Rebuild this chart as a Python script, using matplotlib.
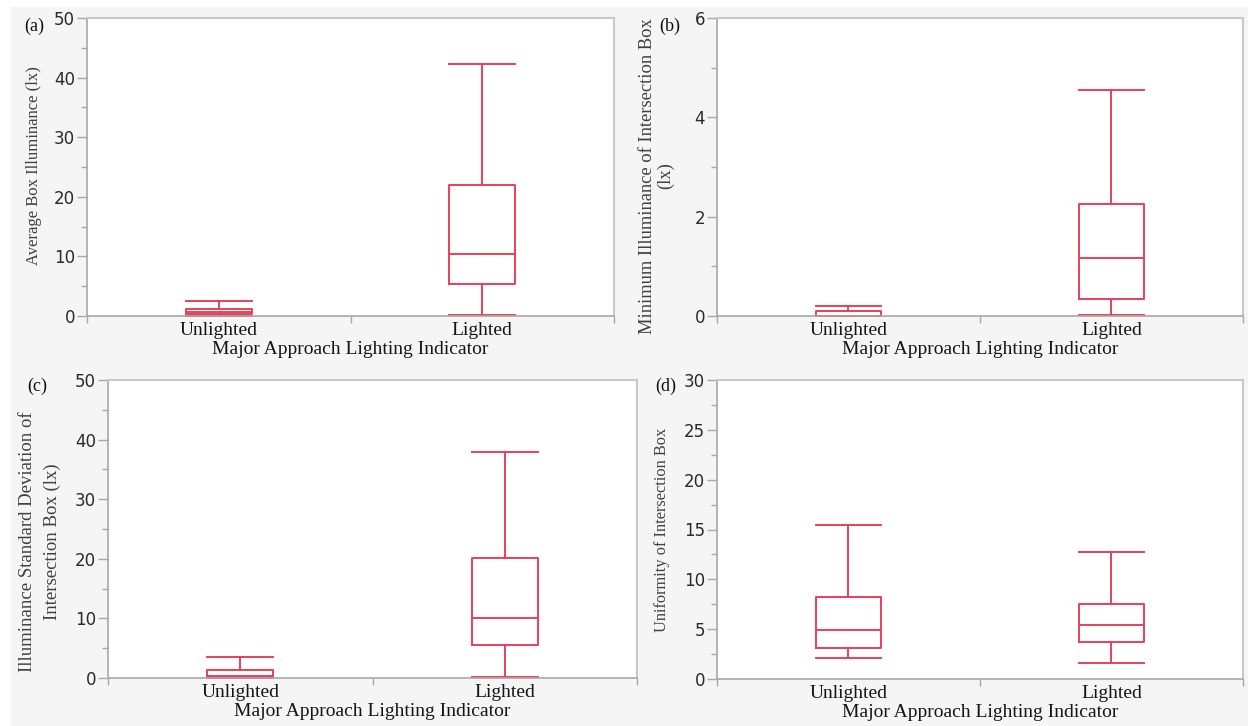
import matplotlib
matplotlib.use("Agg")
import matplotlib.pyplot as plt
from matplotlib.patches import Rectangle
from matplotlib.ticker import MultipleLocator, FixedLocator

categories = ["Unlighted", "Lighted"]

# five-number summaries per panel: [whislo, q1, med, q3, whishi]
avg_box_unlit = [0.0, 0.3, 0.7, 1.2, 2.5]
avg_box_lit = [0.2, 5.4, 10.4, 22.0, 42.2]

min_box_unlit = [0.0, 0.0, 0.0, 0.1, 0.2]
min_box_lit = [0.02, 0.34, 1.17, 2.25, 4.55]

sd_box_unlit = [0.0, 0.1, 0.4, 1.4, 3.5]
sd_box_lit = [0.2, 5.5, 10.0, 20.1, 38.0]

unif_box_unlit = [2.15, 3.15, 4.9, 8.2, 15.45]
unif_box_lit = [1.65, 3.75, 5.4, 7.5, 12.7]

panel_letters = ["(a)", "(b)", "(c)", "(d)"]
y_label_lines = [["Average Box Illuminance (lx)"],
                 ["Minimum Illuminance of Intersection Box", "(lx)"],
                 ["Illuminance Standard Deviation of", "Intersection Box (lx)"],
                 ["Uniformity of Intersection Box"]]
x_label = "Major Approach Lighting Indicator"
y_limits = [(0, 50), (0, 6), (0, 50), (0, 30)]
y_major = [10, 2, 10, 5]
y_minor = [5, 1, 5, 2.5]

data = [(avg_box_unlit, avg_box_lit), (min_box_unlit, min_box_lit),
        (sd_box_unlit, sd_box_lit), (unif_box_unlit, unif_box_lit)]

W, H = 1248, 726
fig = plt.figure(figsize=(W / 100, H / 100), dpi=100, facecolor="white")
fig.patches.append(Rectangle((11 / W, 0), 1 - 11 / W, 1 - 7 / H, transform=fig.transFigure,
                             facecolor="#f5f5f5", edgecolor="none", zorder=-10))

# axes boxes in pixels: left, top, right, bottom
boxes = [(87, 18, 614, 316), (717, 18, 1243, 316),
         (108, 380, 637, 678), (717, 380, 1243, 679)]

red = "#e8405a"
serif = "Liberation Serif"
spine_col = "#a8a8a8"

letter_pos = [(24, 26), (659, 26), (27, 386), (655, 386)]
ylabel_x = [[34], [648, 666], [28, 52], [662]]
ylabel_y = [166, 176, 542, 530]
ylabel_size = [12, 13.3, 13.5, 11.8]

for i, (l, t, r, b) in enumerate(boxes):
    ax = fig.add_axes([l / W, 1 - b / H, (r - l) / W, (b - t) / H])
    ax.set_facecolor("white")
    unlit, lit = data[i]
    stats = []
    for name, s in zip(categories, (unlit, lit)):
        stats.append(dict(label=name, whislo=s[0], q1=s[1], med=s[2], q3=s[3], whishi=s[4], fliers=[]))
    lp = dict(color=red, linewidth=1.4)
    ax.bxp(stats, positions=[1, 2], widths=0.25, capwidths=0.25, showfliers=False,
           boxprops=lp, whiskerprops=lp, capprops=lp, medianprops=lp)
    for art in ax.lines:
        art.set_clip_on(False)
    ax.set_xlim(0.5, 2.5)
    ax.set_ylim(*y_limits[i])
    ax.yaxis.set_major_locator(MultipleLocator(y_major[i]))
    ax.yaxis.set_minor_locator(MultipleLocator(y_minor[i]))
    ax.set_xticks([1, 2])
    ax.set_xticklabels(categories, fontfamily=serif, fontsize=14, color="#151515")
    ax.xaxis.set_minor_locator(FixedLocator([0.5, 1.5, 2.5]))
    ax.tick_params(axis="x", which="major", length=0, pad=4.5)
    ax.tick_params(axis="x", which="minor", length=5, color=spine_col, width=1)
    ax.tick_params(axis="y", which="major", length=7.5, color=spine_col, width=1, pad=1,
                   labelsize=12, labelcolor="#2a2a2a")
    ax.tick_params(axis="y", which="minor", length=4.5, color=spine_col, width=1)
    for lab in ax.get_yticklabels():
        lab.set_fontfamily("DejaVu Sans")
    for side, sp in ax.spines.items():
        sp.set_color(spine_col if side in ("left", "bottom") else "#c8c8c8")
        sp.set_linewidth(1.2 if side in ("left", "bottom") else 1.5)
    ax.set_xlabel(x_label, fontfamily=serif, fontsize=14, color="#151515", labelpad=1.5)
    for line, xpos in zip(y_label_lines[i], ylabel_x[i]):
        fig.text(xpos / W, 1 - ylabel_y[i] / H, line, rotation=90,
                 ha="center", va="center", fontfamily=serif, fontsize=ylabel_size[i],
                 color="#404040")
    fig.text(letter_pos[i][0] / W, 1 - letter_pos[i][1] / H, panel_letters[i],
             fontfamily=serif, fontsize=13, color="#111111", ha="left", va="center")

fig.savefig("out.png", dpi=100, facecolor=fig.get_facecolor())
